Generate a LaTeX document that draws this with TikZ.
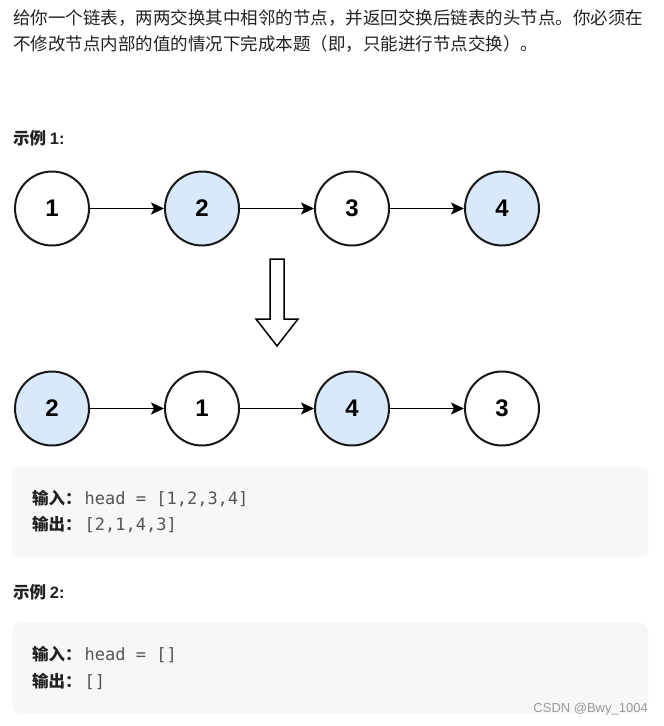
\documentclass[tikz,border=0pt]{standalone}
\usepackage{fontspec}
\usepackage{xcolor}
\usetikzlibrary{arrows.meta, positioning}
\newfontfamily\cjk{Noto Sans CJK SC}
\newfontfamily\numfont{Liberation Sans}
\newfontfamily\codefont{DejaVu Sans Mono}
\newfontfamily\markfont{Liberation Sans}
\definecolor{nodeblue}{HTML}{DAE8FC}
\definecolor{boxgray}{HTML}{F7F7F7}
\definecolor{textdark}{HTML}{222222}
\definecolor{codegray}{HTML}{555555}
\definecolor{markgray}{HTML}{9A9A9A}

\begin{document}
\begin{tikzpicture}[x=1pt, y=-1pt,
    listnode/.style={circle, draw=black!90, line width=2pt, minimum size=74pt, inner sep=0pt,
        font=\numfont\bfseries\fontsize{24}{24}\selectfont},
    plain/.style={listnode, fill=white},
    swapped/.style={listnode, fill=nodeblue},
    link/.style={-{Stealth[length=13pt, width=12pt, inset=3pt]}, line width=1.5pt},
    codebox/.style={fill=boxgray, rounded corners=8pt},
    body/.style={anchor=west, inner sep=0pt, text=textdark, font=\cjk\fontsize{17.5}{20}\selectfont},
    heading/.style={anchor=west, inner sep=0pt, text=textdark, font=\cjk\bfseries\fontsize{16.5}{20}\selectfont},
    codeline/.style={anchor=west, inner sep=0pt, text=textdark, font=\fontsize{16.5}{20}\selectfont},
    node distance=74pt]
    \fill [white] (0,0) rectangle (664,726);
    \useasboundingbox (0,0) rectangle (664,726);

    % problem text
    \node [body] (line1) at (13,18.5) {给你一个链表，两两交换其中相邻的节点，并返回交换后链表的头节点。你必须在};
    \node [body] (line2) at (13,43.5) {不修改节点内部的值的情况下完成本题（即，只能进行节点交换）。};
    \node [heading] (ex1) at (13,138) {示例 {\numfont\bfseries 1:}};

    % list before
    \node [plain] (a1) at (52,208.5) {1};
    \node [swapped, right=of a1] (a2) {2};
    \node [plain, right=of a2] (a3) {3};
    \node [swapped, right=of a3] (a4) {4};
    \draw [link] (a1) -- (a2);
    \draw [link] (a2) -- (a3);
    \draw [link] (a3) -- (a4);

    % block arrow
    \draw [line width=1.5pt, line join=miter, fill=white]
        (270,259) -- (284,259) -- (284,319) -- (298,319) -- (277,346)
        -- (256,319) -- (270,319) -- cycle;

    % list after
    \node [swapped] (b1) at (52,408.5) {2};
    \node [plain, right=of b1] (b2) {1};
    \node [swapped, right=of b2] (b3) {4};
    \node [plain, right=of b3] (b4) {3};
    \draw [link] (b1) -- (b2);
    \draw [link] (b2) -- (b3);
    \draw [link] (b3) -- (b4);

    % example boxes
    \fill [codebox] (12,467) rectangle (648,557);
    \node [codeline] (in1) at (32,499) {{\cjk\bfseries 输入：}\hspace{3pt}{\codefont\fontsize{17}{20}\selectfont\color{codegray}head = [1,2,3,4]}};
    \node [codeline] (out1) at (32,525) {{\cjk\bfseries 输出：}\hspace{3pt}{\codefont\fontsize{17}{20}\selectfont\color{codegray}[2,1,4,3]}};

    \node [heading] (ex2) at (13,592) {示例 {\numfont\bfseries 2:}};

    \fill [codebox] (12,623) rectangle (648,713);
    \node [codeline] (in2) at (32,654) {{\cjk\bfseries 输入：}\hspace{3pt}{\codefont\fontsize{17}{20}\selectfont\color{codegray}head = []}};
    \node [codeline] (out2) at (32,681) {{\cjk\bfseries 输出：}\hspace{3pt}{\codefont\fontsize{17}{20}\selectfont\color{codegray}[]}};

    \node [anchor=east, inner sep=0pt, text=markgray, font=\markfont\fontsize{13}{15}\selectfont] (mark) at (648,709) {CSDN @Bwy\_1004};
\end{tikzpicture}
\end{document}
